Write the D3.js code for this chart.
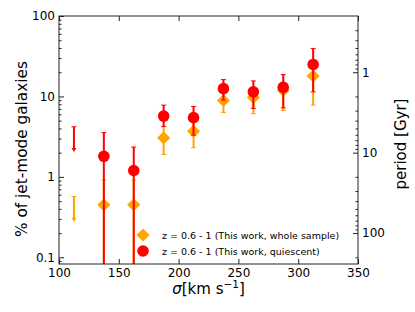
<!DOCTYPE html>
<html>
<head>
<meta charset="utf-8">
<script src="https://cdn.jsdelivr.net/npm/d3@7"></script>
<style>
  html, body { margin: 0; padding: 0; background: #fff; overflow: hidden; }
  svg { display: block; font-family: "DejaVu Sans", sans-serif; }
  .tick text { font-size: 12px; fill: #000; font-family: "DejaVu Sans", sans-serif; }
</style>
</head>
<body>
<svg width="415" height="312"></svg>
<script>
  // sigma bins (km/s)
  const sigma = [137.5, 162.5, 187.5, 212.5, 237.5, 262.5, 287.5, 312.5];

  // whole sample (orange diamonds): value, lower and upper ends of the error bar
  const wholeVal = [0.45, 0.45, 3.05, 3.7, 8.9, 9.7, 11.9, 18.0];
  const wholeLo  = [0.001, 0.001, 1.9, 2.3, 6.3, 6.1, 6.7, 7.8];
  const wholeHi  = [0.91, 0.91, 4.2, 5.0, 11.5, 13.0, 15.0, 24.0];

  // quiescent (red circles)
  const quiesVal = [1.8, 1.2, 5.7, 5.45, 12.5, 11.4, 13.0, 25.0];
  const quiesLo  = [0.001, 0.001, 4.25, 3.3, 9.0, 7.1, 7.2, 11.4];
  const quiesHi  = [3.55, 2.35, 7.8, 7.5, 16.2, 15.6, 18.7, 39.5];

  // upper limits in the first bin
  const limSigma = 112.5;
  const wholeLimit = 0.57;
  const quiesLimit = 4.2;

  const xTicks = [100, 150, 200, 250, 300, 350];
  const yTicks = [0.1, 1, 10, 100];
  const periodTicks = [1, 10, 100];
  const periodConst = 20; // period [Gyr] = periodConst / percentage

  const legendLabels = [
    'z = 0.6 - 1 (This work, whole sample)',
    'z = 0.6 - 1 (This work, quiescent)'
  ];

  const orange = '#FFA500';
  const red = '#FF0000';

  const svg = d3.select('svg');
  const width = +svg.attr('width');
  const height = +svg.attr('height');

  const margin = { top: 16, right: 57, bottom: 48, left: 59 };
  const innerWidth = width - margin.left - margin.right;
  const innerHeight = height - margin.top - margin.bottom;

  const yMin = 0.0826, yMax = 100;

  const xScale = d3.scaleLinear().domain([100, 350]).range([0, innerWidth]);
  const yScale = d3.scaleLog().domain([yMin, yMax]).range([innerHeight, 0]);
  const pScale = d3.scaleLog()
    .domain([periodConst / yMin, periodConst / yMax])
    .range([innerHeight, 0]);

  const g = svg.append('g')
    .attr('transform', `translate(${margin.left},${margin.top})`);

  g.append('clipPath').attr('id', 'clip')
    .append('rect').attr('width', innerWidth).attr('height', innerHeight);

  // minor log ticks
  const minors = (lo, hi) => {
    const out = [];
    for (let e = Math.floor(Math.log10(lo)); e <= Math.ceil(Math.log10(hi)); e++) {
      for (let m = 2; m <= 9; m++) {
        const v = m * Math.pow(10, e);
        if (v > lo && v < hi) out.push(v);
      }
    }
    return out;
  };

  // axes
  const styleAxis = sel => {
    sel.attr('font-family', null).attr('font-size', null);
    sel.selectAll('.domain').remove();
    sel.selectAll('.tick line').attr('stroke', '#222');
    sel.selectAll('.tick text').filter(function () { return !this.textContent; }).remove();
  };

  g.append('g')
    .attr('transform', `translate(0,${innerHeight})`)
    .call(d3.axisBottom(xScale).tickValues(xTicks).tickSize(-5).tickPadding(4))
    .call(styleAxis);

  g.append('g')
    .call(d3.axisTop(xScale).tickValues(xTicks).tickSize(-5).tickFormat(''))
    .call(styleAxis);

  g.append('g')
    .call(d3.axisLeft(yScale).tickValues(yTicks).tickSize(-5).tickPadding(4)
      .tickFormat(d3.format('~g')))
    .call(styleAxis);

  g.append('g')
    .call(d3.axisLeft(yScale).tickValues(minors(yMin, yMax)).tickSize(-2.5).tickFormat(''))
    .call(styleAxis);

  g.append('g')
    .attr('transform', `translate(${innerWidth},0)`)
    .call(d3.axisRight(pScale).tickValues(periodTicks).tickSize(-5).tickPadding(4)
      .tickFormat(d3.format('~g')))
    .call(styleAxis);

  g.append('g')
    .attr('transform', `translate(${innerWidth},0)`)
    .call(d3.axisRight(pScale).tickValues(minors(periodConst / yMax, periodConst / yMin))
      .tickSize(-2.5).tickFormat(''))
    .call(styleAxis);

  // data layer
  const plot = g.append('g').attr('clip-path', 'url(#clip)');

  const diamond = d3.symbol().type(d3.symbolDiamond2).size(110);

  const drawSeries = (vals, lo, hi, color, marker) => {
    const s = plot.append('g');
    sigma.forEach((x, i) => {
      const cx = xScale(x);
      s.append('line')
        .attr('x1', cx).attr('x2', cx)
        .attr('y1', yScale(Math.max(lo[i], yMin / 10)))
        .attr('y2', yScale(hi[i]))
        .attr('stroke', color).attr('stroke-width', 2);
      [lo[i], hi[i]].forEach(v => {
        s.append('line')
          .attr('x1', cx - 2.5).attr('x2', cx + 2.5)
          .attr('y1', yScale(Math.max(v, yMin / 10))).attr('y2', yScale(Math.max(v, yMin / 10)))
          .attr('stroke', color).attr('stroke-width', 1);
      });
      if (marker === 'circle') {
        s.append('circle').attr('cx', cx).attr('cy', yScale(vals[i]))
          .attr('r', 5.8).attr('fill', color);
      } else {
        s.append('path').attr('d', diamond)
          .attr('transform', `translate(${cx},${yScale(vals[i])})`)
          .attr('fill', color);
      }
    });
  };

  const drawLimit = (v, color) => {
    const cx = xScale(limSigma);
    const y1 = yScale(v);
    const y2 = yScale(v * 0.5);
    plot.append('line')
      .attr('x1', cx).attr('x2', cx).attr('y1', y1).attr('y2', y2 - 2)
      .attr('stroke', color).attr('stroke-width', 2);
    plot.append('line')
      .attr('x1', cx - 2.5).attr('x2', cx + 2.5).attr('y1', y1).attr('y2', y1)
      .attr('stroke', color).attr('stroke-width', 1);
    plot.append('path')
      .attr('d', `M${cx - 2.5},${y2 - 3}L${cx + 2.5},${y2 - 3}L${cx},${y2 + 1}Z`)
      .attr('fill', color);
  };

  drawLimit(wholeLimit, orange);
  drawLimit(quiesLimit, red);
  drawSeries(wholeVal, wholeLo, wholeHi, orange, 'diamond');
  drawSeries(quiesVal, quiesLo, quiesHi, red, 'circle');

  // frame
  g.append('rect')
    .attr('width', innerWidth).attr('height', innerHeight)
    .attr('fill', 'none').attr('stroke', '#222').attr('stroke-width', 1);

  // legend
  const legend = g.append('g').attr('transform', `translate(${143 - margin.left},${235 - margin.top})`);
  legend.append('path').attr('d', diamond).attr('fill', orange);
  legend.append('circle').attr('cy', 16).attr('r', 5.8).attr('fill', red);
  legendLabels.forEach((t, i) => {
    legend.append('text')
      .attr('x', 19).attr('y', i * 16 + 3.5)
      .attr('font-size', 9.5)
      .text(t);
  });

  // axis labels
  const xl = svg.append('text')
    .attr('x', margin.left + innerWidth / 2)
    .attr('y', 294)
    .attr('text-anchor', 'middle')
    .attr('font-size', 15);
  xl.append('tspan').attr('font-style', 'italic').text('σ');
  xl.append('tspan').text('[km s');
  xl.append('tspan').attr('font-size', 10.5).attr('dy', -6).text('−1');
  xl.append('tspan').attr('dy', 6).text(']');

  svg.append('text')
    .attr('transform', `translate(27,${margin.top + innerHeight / 2 + 9}) rotate(-90)`)
    .attr('text-anchor', 'middle')
    .attr('font-size', 15.3)
    .text('% of jet-mode galaxies');

  svg.append('text')
    .attr('transform', `translate(406,${margin.top + innerHeight / 2 + 4}) rotate(-90)`)
    .attr('text-anchor', 'middle')
    .attr('font-size', 15)
    .text('period [Gyr]');
</script>
</body>
</html>
